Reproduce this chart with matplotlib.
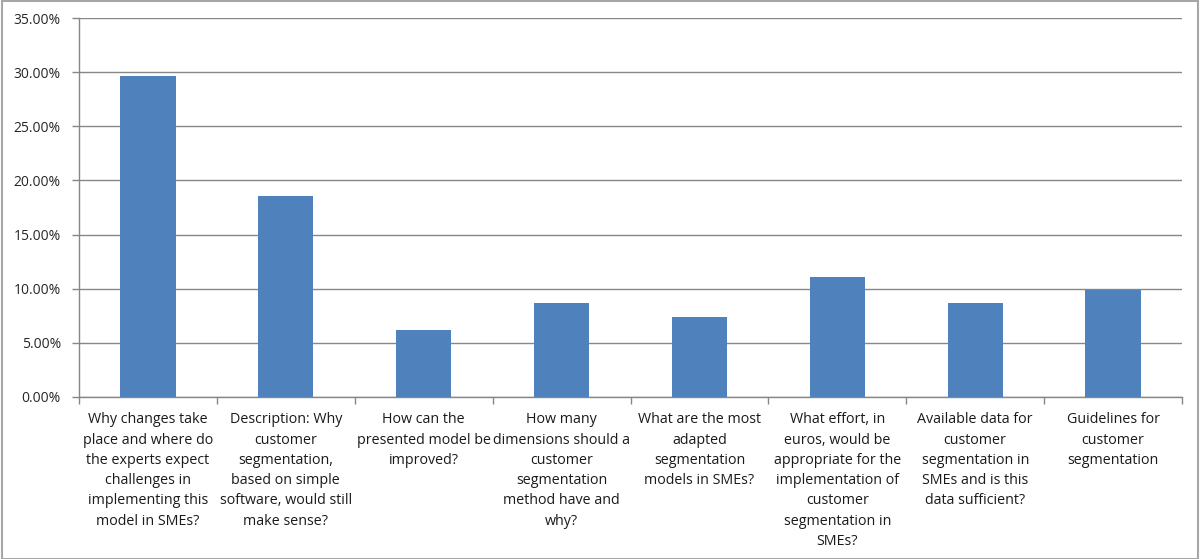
import matplotlib
matplotlib.use("Agg")
import matplotlib.pyplot as plt
from matplotlib.ticker import PercentFormatter, MultipleLocator
from matplotlib.patches import Rectangle

categories = [
    "Why changes take\nplace and where do\nthe experts expect\nchallenges in\nimplementing this\nmodel in SMEs?",
    "Description: Why\ncustomer\nsegmentation,\nbased on simple\nsoftware, would still\nmake sense?",
    "How can the\npresented model be\nimproved?",
    "How many\ndimensions should a\ncustomer\nsegmentation\nmethod have and\nwhy?",
    "What are the most\nadapted\nsegmentation\nmodels in SMEs?",
    "What effort, in\neuros, would be\nappropriate for the\nimplementation of\ncustomer\nsegmentation in\nSMEs?",
    "Available data for\ncustomer\nsegmentation in\nSMEs and is this\ndata sufficient?",
    "Guidelines for\ncustomer\nsegmentation",
]
shares = [0.2963, 0.1852, 0.0617, 0.0864, 0.0741, 0.1111, 0.0864, 0.0988]

plt.rcParams["font.family"] = ["Open Sans", "DejaVu Sans"]

W, H = 1200, 559
fig = plt.figure(figsize=(W / 100, H / 100), dpi=100)
ax = fig.add_axes([79 / W, 1 - 397 / H, (1182 - 79) / W, (397 - 18) / H])

grid_c = "#878787"
x = range(len(categories))
ax.bar(x, shares, width=0.4, color="#4F81BD", zorder=3)

ax.set_xlim(-0.5, len(categories) - 0.5)
ax.set_ylim(0, 0.35)
ax.yaxis.set_major_locator(MultipleLocator(0.05))
ax.yaxis.set_major_formatter(PercentFormatter(1.0, decimals=2))
ax.grid(axis="y", color=grid_c, linewidth=1, zorder=0)

for s in ["top", "right"]:
    ax.spines[s].set_visible(False)
for s in ["left", "bottom"]:
    ax.spines[s].set_color(grid_c)
    ax.spines[s].set_linewidth(1)

# category labels centred under bars, ticks at category boundaries
ax.set_xticks(list(x))
ax.set_xticklabels(categories, fontsize=10.3, color="#1a1a1a", linespacing=1.48,
                   va="top", ha="center")
ax.tick_params(axis="x", length=0, pad=11)
ax.set_xticks([i - 0.5 for i in range(len(categories) + 1)], minor=True)
ax.tick_params(axis="x", which="minor", length=5, color=grid_c, width=1)
ax.tick_params(axis="y", length=5, color=grid_c, width=1, labelsize=10,
               labelcolor="#262626", pad=8)

# outer chart border
fig.patches.append(Rectangle((2 / W, 0), (1196 / W), 1 - 1 / H, transform=fig.transFigure,
                             fill=False, edgecolor="#A6A6A6", linewidth=1.5))

fig.savefig("out.png", dpi=100)
